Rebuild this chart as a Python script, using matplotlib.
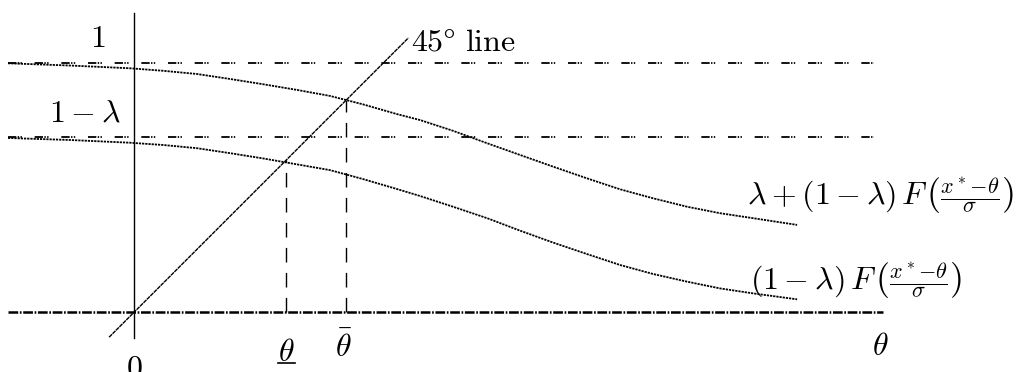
import matplotlib
matplotlib.use('Agg')
import matplotlib.pyplot as plt

plt.rcParams['mathtext.fontset'] = 'cm'
plt.rcParams['font.family'] = 'serif'
plt.rcParams['font.serif'] = ['DejaVu Serif']
plt.rcParams['lines.scale_dashes'] = False

# levels (units: the "1" line = 1.0)
one_level = 1.0
lam = 0.298
theta_lo = 0.612
theta_hi = 0.853

# points
theta_pts = [-0.506, -0.257, -0.016, 0.116, 0.253, 0.386, 0.518, 0.655, 0.787,
             0.920, 1.056, 1.149, 1.281, 1.418, 1.550, 1.683, 1.819, 1.952,
             2.084, 2.221, 2.353, 2.486, 2.663]
upper_curve = [1.000, 0.991, 0.980, 0.970, 0.957, 0.937, 0.916, 0.893, 0.869,
               0.835, 0.796, 0.772, 0.729, 0.679, 0.632, 0.585, 0.538, 0.494,
               0.458, 0.424, 0.398, 0.378, 0.351]
lower_curve = [0.700, 0.692, 0.681, 0.672, 0.659, 0.639, 0.618, 0.594, 0.571,
               0.535, 0.495, 0.467, 0.424, 0.378, 0.328, 0.280, 0.234, 0.190,
               0.154, 0.123, 0.096, 0.076, 0.052]

line45_x = [-0.1, 1.102]
axis_x = [-0.505, 3.009]
levels_x = [-0.505, 2.972]
vaxis_y = [-0.105, 1.201]

fig = plt.figure(figsize=(10.18, 3.72), dpi=100)
ax = fig.add_axes([0, 0, 1, 1])
ax.set_xlim(-0.5382, 3.5502)
ax.set_ylim(-0.2398, 1.2542)
ax.axis('off')

dashdot = (0, (6, 1, 1, 1, 1, 9.2))
ax.plot(levels_x, [one_level, one_level], color='k', lw=1.3, linestyle=dashdot)
ax.plot(levels_x, [one_level - lam, one_level - lam], color='k', lw=1.3, linestyle=dashdot)
ax.plot(axis_x, [0, 0], color='k', lw=1.8, linestyle=(0, (7, 1.2, 1.2, 1.2)))

ax.plot([0, 0], vaxis_y, color='k', lw=1.0)
ax.plot(line45_x, line45_x, color='k', lw=1.0, linestyle=(0, (3, 0.5)))

ax.plot(theta_pts, upper_curve, color='k', lw=1.3, linestyle=(0, (1.6, 0.7)))
ax.plot(theta_pts, lower_curve, color='k', lw=1.3, linestyle=(0, (1.6, 0.7)))

ax.plot([theta_lo, theta_lo], [0, theta_lo], color='k', lw=1.0, linestyle=(0, (10.5, 7.5)))
ax.plot([theta_hi, theta_hi], [0, theta_hi], color='k', lw=1.0, linestyle=(0, (10.5, 7.5)))

fs = 23
ax.text(-0.146, 1.098, r'$1$', fontsize=fs, ha='center', va='center')
ax.text(-0.197, 0.802, r'$1-\lambda$', fontsize=fs, ha='center', va='center')
ax.text(1.112, 1.053, r'$45\degree\ \mathrm{line}$', fontsize=fs, ha='left', va='baseline')
ax.text(0.0, -0.163, r'$0$', fontsize=fs, ha='center', va='top')
ax.text(theta_lo, -0.099, r'$\theta$', fontsize=fs, ha='center', va='top')
# underline of the lower theta
ax.plot([theta_lo - 0.033, theta_lo + 0.033], [-0.202, -0.202], color='k', lw=1.2)
ax.text(theta_hi - 0.01, -0.079, r'$\bar{\theta}$', fontsize=fs, ha='center', va='top')
ax.text(2.996, -0.138, r'$\theta$', fontsize=fs, ha='center', va='center')
ax.text(2.461, 0.471, r'$\lambda+(1-\lambda)\,F\,\left(\frac{x^*{-}\theta}{\sigma}\right)$',
        fontsize=fs, ha='left', va='center')
ax.text(2.474, 0.130, r'$(1-\lambda)\,F\,\left(\frac{x^*{-}\theta}{\sigma}\right)$',
        fontsize=fs, ha='left', va='center')

fig.savefig('out.png', dpi=100)
